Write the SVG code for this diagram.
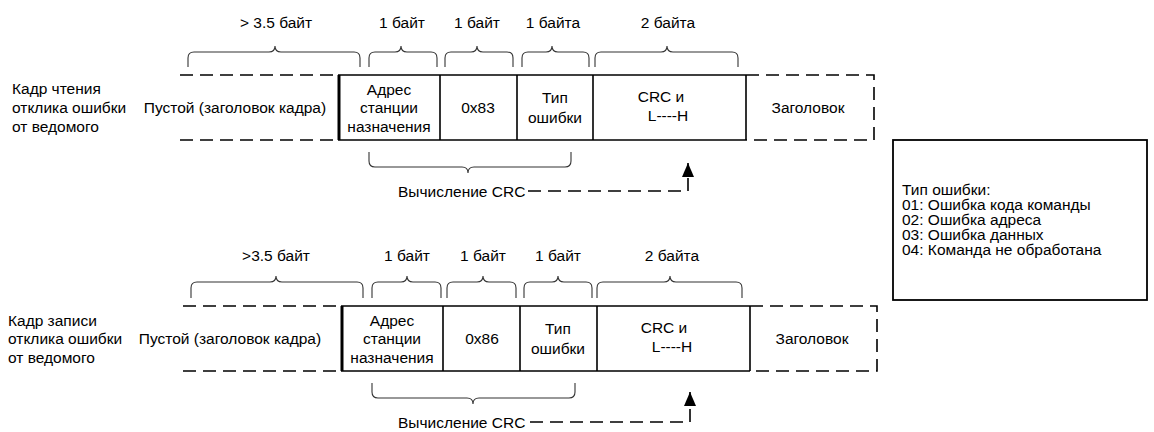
<svg xmlns="http://www.w3.org/2000/svg" width="1154" height="432" viewBox="0 0 1154 432">
<style>
text{font-family:"Liberation Sans",Arial,sans-serif;font-size:15.5px;fill:#000}
.m{text-anchor:middle}
.s{fill:none;stroke:#000;stroke-width:1.6}
.d{fill:none;stroke:#000;stroke-width:1.6;stroke-dasharray:13 7}
.t{fill:none;stroke:#000;stroke-width:3}
.b{fill:none;stroke:#333;stroke-width:1.1}
</style>
<defs>
<marker id="ah" markerWidth="14" markerHeight="12" refX="14" refY="6" orient="auto" markerUnits="userSpaceOnUse" viewBox="0 0 14 12">
<path d="M0,0 L14,6 L0,12 Z" fill="#000"/>
</marker>
</defs>
<rect width="1154" height="432" fill="#fff"/>

<g id="frame1">
<text x="12" y="94">Кадр чтения</text>
<text x="12" y="113">отклика ошибки</text>
<text x="12" y="132">от ведомого</text>
<path class="d" d="M180,75 H338 M180,140 H338"/>
<text class="m" x="235" y="113">Пустой (заголовок кадра)</text>
<path class="s" d="M338,75 H746 M338,140 H746 M440,75 V140 M517,75 V140 M593,75 V140 M746,75 V140"/>
<path class="t" d="M339,75 V140"/>
<path class="d" d="M746,75 H874 V140 H746"/>
<text class="m" x="389" y="95">Адрес</text>
<text class="m" x="389" y="113">станции</text>
<text class="m" x="389" y="132">назначения</text>
<text class="m" x="478" y="113">0x83</text>
<text class="m" x="555" y="103">Тип</text>
<text class="m" x="555" y="123">ошибки</text>
<text class="m" x="661" y="102">CRC и</text>
<text class="m" x="668" y="121">L----H</text>
<text class="m" x="808" y="113">Заголовок</text>
<text class="m" x="276" y="28">&gt;  3.5 байт</text>
<text class="m" x="402" y="28">1 байт</text>
<text class="m" x="477" y="28">1 байт</text>
<text class="m" x="553" y="28">1 байта</text>
<text class="m" x="668" y="28">2 байта</text>
<path class="b" d="M188,67 V58 Q188,52 194,52 H269 Q275,52 275,46 Q275,52 281,52 H354 Q360,52 360,58 V67"/>
<path class="b" d="M369,67 V58 Q369,52 375,52 H395 Q401,52 401,46 Q401,52 407,52 H431 Q437,52 437,58 V67"/>
<path class="b" d="M445,67 V58 Q445,52 451,52 H471 Q477,52 477,46 Q477,52 483,52 H507 Q513,52 513,58 V67"/>
<path class="b" d="M522,67 V58 Q522,52 528,52 H546 Q552,52 552,46 Q552,52 558,52 H583 Q589,52 589,58 V67"/>
<path class="b" d="M595,67 V58 Q595,52 601,52 H661 Q667,52 667,46 Q667,52 673,52 H732 Q738,52 738,58 V67"/>
<path class="b" d="M369,152 V161 Q369,167 375,167 H462 Q468,167 468,173 Q468,167 474,167 H565 Q571,167 571,161 V152"/>
<text x="398" y="197">Вычисление CRC</text>
</g>

<g id="frame2">
<text x="8" y="326">Кадр записи</text>
<text x="8" y="344">отклика ошибки</text>
<text x="8" y="363">от ведомого</text>
<path class="d" d="M183,306 H341 M183,371 H341"/>
<text class="m" x="230" y="344">Пустой (заголовок кадра)</text>
<path class="s" d="M341,306 H750 M341,371 H750 M443,306 V371 M520,306 V371 M597,306 V371 M750,306 V371"/>
<path class="t" d="M342,306 V371"/>
<path class="d" d="M750,306 H877 V371 H750"/>
<text class="m" x="392" y="326">Адрес</text>
<text class="m" x="392" y="344">станции</text>
<text class="m" x="392" y="363">назначения</text>
<text class="m" x="482" y="344">0x86</text>
<text class="m" x="558" y="334">Тип</text>
<text class="m" x="558" y="354">ошибки</text>
<text class="m" x="664" y="333">CRC и</text>
<text class="m" x="672" y="352">L----H</text>
<text class="m" x="812" y="344">Заголовок</text>
<text class="m" x="276" y="261">&gt;3.5 байт</text>
<text class="m" x="407" y="261">1 байт</text>
<text class="m" x="483" y="261">1 байт</text>
<text class="m" x="558" y="261">1 байт</text>
<text class="m" x="672" y="261">2 байта</text>
<path class="b" d="M191,298 V288 Q191,282 197,282 H270 Q276,282 276,276 Q276,282 282,282 H357 Q363,282 363,288 V298"/>
<path class="b" d="M372,298 V288 Q372,282 378,282 H401 Q407,282 407,276 Q407,282 413,282 H435 Q441,282 441,288 V298"/>
<path class="b" d="M447,298 V288 Q447,282 453,282 H477 Q483,282 483,276 Q483,282 489,282 H510 Q516,282 516,288 V298"/>
<path class="b" d="M524,298 V288 Q524,282 530,282 H552 Q558,282 558,276 Q558,282 564,282 H586 Q592,282 592,288 V298"/>
<path class="b" d="M597,298 V288 Q597,282 603,282 H664 Q670,282 670,276 Q670,282 676,282 H736 Q742,282 742,288 V298"/>
<path class="b" d="M372,383 V392 Q372,398 378,398 H467 Q473,398 473,404 Q473,398 479,398 H569 Q575,398 575,392 V383"/>
<text x="398" y="428">Вычисление CRC</text>
</g>

<g id="legend">
<rect x="893" y="140" width="254" height="160" fill="#fff" stroke="#000" stroke-width="1.8"/>
<text x="902" y="195">Тип ошибки:</text>
<text x="902" y="210">01: Ошибка кода команды</text>
<text x="902" y="225">02: Ошибка адреса</text>
<text x="902" y="240">03: Ошибка данных</text>
<text x="902" y="255">04: Команда не обработана</text>
</g>

<g id="connectors">
<path class="d" d="M528,191 H688 V163" marker-end="url(#ah)"/>
<path class="d" d="M530,422 H690 V392" marker-end="url(#ah)"/>
</g>
</svg>
